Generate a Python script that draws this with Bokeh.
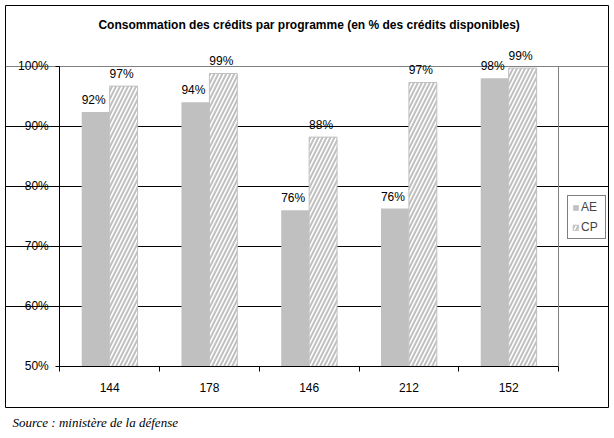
import numpy as np
from bokeh.plotting import figure
from bokeh.models import (ColumnDataSource, FixedTicker, PrintfTickFormatter, Label,
                          Legend, LegendItem, Range1d, Grid, Title)
from bokeh.transform import dodge
from bokeh.core.properties import value
from bokeh.embed import file_html
from bokeh.resources import INLINE

categories = ["144", "178", "146", "212", "152"]
ae = [92.4, 94.0, 76.0, 76.3, 98.0]
cp = [96.7, 98.8, 88.2, 97.3, 99.7]
ae_labels = ["92%", "94%", "76%", "76%", "98%"]
cp_labels = ["97%", "99%", "88%", "97%", "99%"]
y_ticks = [50, 60, 70, 80, 90, 100]
Y_MIN, Y_MAX = 50, 100

n = len(categories)
xs = [i + 0.5 for i in range(n)]
src = ColumnDataSource(dict(x=xs, ae=ae, cp=cp, ae_lab=ae_labels, cp_lab=cp_labels))

FONT = "Liberation Sans"

# frame = outer chart box; inner plot area = data 0..n x 50..100
p = figure(width=614, height=438,
           x_range=Range1d(-0.544, n + 0.501), y_range=Range1d(43.17, 110.12),
           output_backend="svg", toolbar_location=None,
           min_border_left=5, min_border_right=6, min_border_top=5, min_border_bottom=31)
p.title.visible = False
p.background_fill_color = "white"
p.border_fill_color = "white"
p.outline_line_color = "black"
p.outline_line_width = 1

# axes, fixed at the inner plot area
xa = p.xaxis[0]
xa.fixed_location = Y_MIN
xa.bounds = (0, n)
xa.ticker = FixedTicker(ticks=xs, minor_ticks=list(range(n + 1)))
xa.major_label_overrides = {x: c for x, c in zip(xs, categories)}
xa.major_tick_in = 0
xa.major_tick_out = 0
xa.minor_tick_in = 0
xa.minor_tick_out = 5
xa.minor_tick_line_color = "black"
xa.axis_line_color = "black"
xa.major_label_standoff = 12
xa.major_label_text_font = FONT
xa.major_label_text_font_size = "12px"
xa.major_label_text_color = "black"

ya = p.yaxis[0]
ya.fixed_location = 0
ya.bounds = (Y_MIN, Y_MAX)
ya.ticker = FixedTicker(ticks=y_ticks)
ya.formatter = PrintfTickFormatter(format="%d%%")
ya.major_tick_in = 0
ya.major_tick_out = 4
ya.major_tick_line_color = "black"
ya.minor_tick_line_color = None
ya.axis_line_color = "black"
ya.major_label_standoff = 7
ya.major_label_text_font = FONT
ya.major_label_text_font_size = "12px"
ya.major_label_text_color = "black"

p.xgrid.visible = False
p.ygrid.ticker = FixedTicker(ticks=y_ticks[1:-1])
p.ygrid.bounds = (0, n)
p.ygrid.grid_line_color = "black"
p.ygrid.grid_line_alpha = 1
p.ygrid.grid_line_width = 1

# gray border of the inner plot area (top and right)
p.add_layout(Grid(dimension=1, ticker=FixedTicker(ticks=[Y_MAX]), bounds=(0, n),
                  grid_line_color="#808080", grid_line_width=1))
p.segment(x0=[n], y0=[Y_MIN], x1=[n], y1=[Y_MAX], line_color="#808080", line_width=1)

r_ae = p.vbar(x=dodge("x", -0.14, range=p.x_range), top="ae", bottom=Y_MIN, width=0.28, source=src,
              fill_color="#c0c0c0", line_color=None)
r_cp = p.vbar(x=dodge("x", 0.14, range=p.x_range), top="cp", bottom=Y_MIN, width=0.28, source=src,
              fill_color="white", line_color="#c0c0c0", line_width=1,
              hatch_pattern="/", hatch_color="#c0c0c0", hatch_scale=8, hatch_weight=2)

for col, lab, off in (("ae", "ae_lab", -0.16), ("cp", "cp_lab", 0.12)):
    p.text(x=dodge("x", off, range=p.x_range), y=col, text=lab, source=src,
           text_align="center", text_baseline="bottom", y_offset=-5,
           text_font=value(FONT), text_font_size="12px", text_color="black")

legend = Legend(items=[LegendItem(label="AE", renderers=[r_ae]),
                       LegendItem(label="CP", renderers=[r_cp])],
                location=(562, 168), orientation="vertical",
                border_line_color="black", border_line_width=1,
                background_fill_color="white", background_fill_alpha=1,
                label_text_font=FONT, label_text_font_size="12px",
                glyph_width=7, glyph_height=7, label_standoff=2,
                padding=4, spacing=6, margin=0, label_height=14)
p.add_layout(legend)

p.add_layout(Label(x=n / 2, y=106.8,
                   text="Consommation des crédits par programme (en % des crédits disponibles)",
                   text_align="center", text_baseline="middle",
                   text_font=FONT, text_font_style="bold", text_font_size="12px",
                   text_color="black"))

p.add_layout(Title(text="Source : ministère de la défense", align="left", offset=7,
                   text_font="Liberation Serif", text_font_style="italic",
                   text_font_size="13px", text_color="black"), "below")

open("out.html", "w").write(file_html(p, INLINE))
